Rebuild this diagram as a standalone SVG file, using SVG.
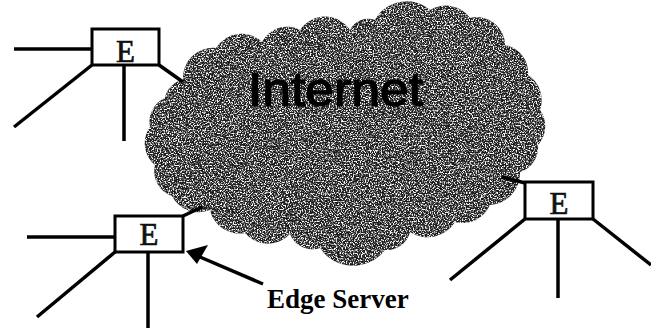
<svg xmlns="http://www.w3.org/2000/svg" width="651" height="328" viewBox="0 0 651 328">
  <style>
    .wire { stroke: #000; stroke-width: 3.5; fill: none; stroke-linecap: butt; }
    .box { fill: #fff; stroke: #000; stroke-width: 3; }
    .boxlabel { font-family: "Liberation Serif", "Times New Roman", serif; font-size: 31px; fill: #111; stroke: #111; stroke-width: 0.7; text-anchor: middle; }
    .cloudlabel { font-family: "Liberation Sans", Arial, sans-serif; font-size: 49px; fill: #000; stroke: #000; stroke-width: 1.2; }
    .caption { font-family: "Liberation Serif", "Times New Roman", serif; font-weight: bold; font-size: 27px; fill: #000; }
  </style>
  <defs>
    <!-- speckled grey texture for the cloud -->
    <filter id="grain" x="0" y="0" width="1" height="1" color-interpolation-filters="sRGB">
      <feTurbulence type="fractalNoise" baseFrequency="0.75" numOctaves="2" seed="7" result="noise"/>
      <feColorMatrix in="noise" type="matrix" values="0 0 0 0 1  0 0 0 0 1  0 0 0 0 1  4.5 0 0 0 -2.05" result="speck"/>
      <feComposite in="speck" in2="SourceAlpha" operator="in" result="speckIn"/>
      <feMerge>
        <feMergeNode in="SourceGraphic"/>
        <feMergeNode in="speckIn"/>
      </feMerge>
    </filter>
  </defs>

  <rect width="651" height="328" fill="#fff"/>

  <!-- Internet cloud -->
  <g id="cloud">
    <path filter="url(#grain)" fill="#1c1c1c"
      d="M183,80
         A30,30 0 0 1 216,48
         A30,30 0 0 1 262,42
         A28,28 0 0 1 300,30
         A30,30 0 0 1 350,30
         A20,20 0 0 1 375,20
         A36,36 0 0 1 430,10
         A30,30 0 0 1 470,18
         A28,28 0 0 1 505,45
         A28,28 0 0 1 528,75
         A30,30 0 0 1 540,110
         A28,28 0 0 1 538,145
         A26,26 0 0 1 520,172
         A32,32 0 0 1 490,205
         A30,30 0 0 1 455,222
         A32,32 0 0 1 410,232
         A24,24 0 0 1 385,250
         A40,40 0 0 1 320,248
         A24,24 0 0 1 290,234
         A30,30 0 0 1 245,233
         A30,30 0 0 1 210,210
         A30,30 0 0 1 172,196
         A26,26 0 0 1 155,165
         A28,28 0 0 1 150,127
         A26,26 0 0 1 165,98
         A22,22 0 0 1 183,80 Z"/>
    <text class="cloudlabel" x="248" y="106" textLength="175" lengthAdjust="spacingAndGlyphs">Internet</text>
  </g>

  <!-- links -->
  <g id="connectors">
    <!-- upper-left edge server -->
    <line class="wire" x1="14" y1="49" x2="92" y2="49"/>
    <line class="wire" x1="92" y1="65" x2="14" y2="127"/>
    <line class="wire" x1="124" y1="65" x2="124" y2="141"/>
    <line class="wire" x1="159" y1="65" x2="183" y2="82"/>
    <!-- lower-left edge server -->
    <line class="wire" x1="27" y1="237" x2="115" y2="237"/>
    <line class="wire" x1="115" y1="252" x2="37" y2="317"/>
    <line class="wire" x1="148" y1="252" x2="148" y2="328"/>
    <line class="wire" x1="183" y1="216" x2="202" y2="207"/>
    <!-- right edge server -->
    <line class="wire" x1="502" y1="177" x2="525" y2="183"/>
    <line class="wire" x1="525" y1="219" x2="450" y2="280"/>
    <line class="wire" x1="558" y1="219" x2="558" y2="298"/>
    <line class="wire" x1="593" y1="219" x2="651" y2="265"/>
    <!-- pointer to the edge server -->
    <line class="wire" x1="263" y1="284" x2="200" y2="257"/>
    <polygon points="186,251 208,245 197,264" fill="#000"/>
  </g>

  <g id="node-e-upper-left">
    <rect class="box" x="92" y="29" width="67" height="36"/>
    <text class="boxlabel" x="125.5" y="62">E</text>
  </g>

  <g id="node-e-lower-left">
    <rect class="box" x="115" y="216" width="68" height="36"/>
    <text class="boxlabel" x="149" y="245">E</text>
  </g>

  <g id="node-e-right">
    <rect class="box" x="525" y="182" width="68" height="37"/>
    <text class="boxlabel" x="559" y="214">E</text>
  </g>

  <g id="label-edge-server">
    <text class="caption" x="267" y="308">Edge Server</text>
  </g>
</svg>
